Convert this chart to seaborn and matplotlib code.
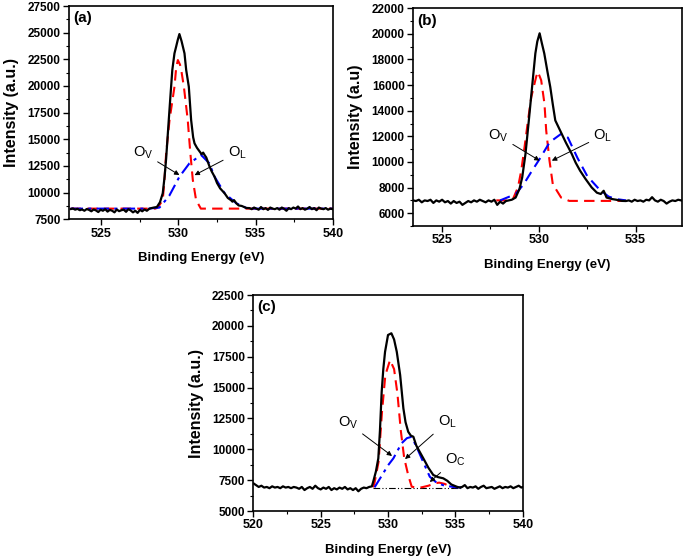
import numpy as np
import pandas as pd
import matplotlib
matplotlib.use("Agg")
import matplotlib.pyplot as plt
import seaborn as sns
from matplotlib.ticker import MultipleLocator

# ---------------- data ----------------
# Panel (a)
a_x = [523.0, 523.15, 523.3, 523.45, 523.6, 523.75, 523.9, 524.05, 524.2, 524.35, 524.5, 524.65,
       524.8, 524.95, 525.1, 525.25, 525.4, 525.55, 525.7, 525.85, 526.0, 526.15, 526.3, 526.45,
       526.6, 526.75, 526.9, 527.05, 527.2, 527.35, 527.5, 527.65, 527.8, 527.95, 528.1, 528.25,
       528.4, 528.6, 528.8, 528.98, 529.1, 529.2, 529.37, 529.5, 529.6, 529.74, 529.85, 529.95,
       530.06, 530.2, 530.39, 530.5, 530.67, 530.82, 530.95, 531.04, 531.2, 531.35, 531.5, 531.6,
       531.69, 531.8, 532.0, 532.15, 532.34, 532.5, 532.7, 532.99, 533.2, 533.4, 533.5, 533.6,
       533.75, 533.9, 534.1, 534.4, 534.6, 534.75, 534.9, 535.05, 535.2, 535.35, 535.5, 535.65,
       535.8, 535.95, 536.1, 536.25, 536.4, 536.55, 536.7, 536.85, 537.0, 537.15, 537.3, 537.45,
       537.6, 537.75, 537.9, 538.05, 538.2, 538.35, 538.5, 538.65, 538.8, 538.95, 539.1, 539.25,
       539.4, 539.55, 539.7, 539.85, 540.0]
a_total = [8450, 8520, 8400, 8480, 8350, 8420, 8300, 8460, 8380, 8250, 8420, 8330,
           8180, 8400, 8300, 8450, 8220, 8380, 8300, 8150, 8420, 8260, 8350, 8400,
           8200, 8450, 8330, 8150, 8300, 8100, 8380, 8250, 8420, 8300, 8480, 8550,
           8600, 8650, 9100, 9940, 11500, 13200, 16810, 19500, 21500, 23060, 23700, 24300,
           24870, 24200, 23060, 21500, 19930, 16810, 15200, 14620, 14200, 13900, 13600, 13750,
           13530, 13300, 12500, 12000, 11490, 10900, 10400, 9940, 9500, 9300, 9150, 9300,
           9000, 8800, 8750, 8560, 8550, 8450, 8600, 8500, 8400, 8650, 8450, 8550,
           8380, 8600, 8500, 8450, 8550, 8400, 8600, 8480, 8300, 8550, 8450, 8600,
           8500, 8700, 8450, 8550, 8400, 8500, 8650, 8450, 8550, 8350, 8600, 8500,
           8450, 8550, 8400, 8500, 8450]
a_red_x = [523.0, 528.5, 528.66, 528.98, 529.09, 529.2, 529.42, 529.74, 529.85, 529.96, 530.1,
           530.2, 530.35, 530.6, 530.77, 530.93, 531.14, 531.45, 540.0]
a_red = [8500, 8500, 8600, 9310, 11180, 13690, 16810, 19930, 21700, 22430, 22000,
         21300, 19930, 16810, 13690, 11180, 9310, 8500, 8500]
a_blue_x = [523.0, 528.0, 528.77, 529.4, 530.06, 530.71, 531.47, 532.0, 532.34, 532.99, 533.75,
            534.4, 535.0, 540.0]
a_blue = [8500, 8500, 8600, 9700, 11490, 12750, 13530, 12750, 11490, 9940, 9000,
          8560, 8500, 8500]

# Panel (b)
b_x = [523.5, 523.65, 523.8, 523.95, 524.1, 524.25, 524.4, 524.55, 524.7, 524.85, 525.0, 525.15,
       525.3, 525.45, 525.6, 525.75, 525.9, 526.05, 526.2, 526.35, 526.5, 526.65, 526.8, 526.95,
       527.1, 527.25, 527.4, 527.55, 527.7, 527.85, 528.0, 528.15, 528.3, 528.45, 528.6, 528.8,
       529.0, 529.14, 529.31, 529.48, 529.65, 529.82, 529.92, 530.04, 530.15, 530.28, 530.45,
       530.59, 530.72, 530.85, 531.1, 531.4, 531.7, 531.9, 532.13, 532.4, 532.73, 533.0, 533.2,
       533.35, 533.5, 533.8, 534.0, 534.3, 534.5, 534.65, 534.8, 534.95, 535.1, 535.25, 535.4,
       535.55, 535.7, 535.85, 536.0, 536.15, 536.3, 536.45, 536.6, 536.75, 536.9, 537.05, 537.2,
       537.35, 537.4]
b_total = [7000, 6950, 7050, 6850, 7000, 6950, 7050, 6800, 7000, 6900, 7050, 6850,
           6950, 6750, 6950, 6800, 6900, 6650, 6800, 6950, 6850, 7000, 6900, 7050,
           6950, 6850, 7000, 6900, 7050, 6650, 6900, 6750, 6950, 7000, 7050, 7220,
           7900, 8790, 10630, 13200, 15850, 18470, 19400, 20040, 19300, 18470, 17000,
           15850, 14500, 13240, 12450, 11500, 10630, 9950, 9320, 8700, 8010, 7600, 7500,
           7750, 7220, 7100, 7050, 6960, 6950, 7000, 6900, 7050, 6950, 7000, 6900,
           7050, 7000, 7250, 7000, 6900, 7050, 6950, 6750, 6900, 7000, 6950, 7050,
           7000, 6980]
b_red_x = [527.8, 528.4, 528.66, 528.92, 529.09, 529.26, 529.44, 529.61, 529.86, 529.95, 530.12,
           530.29, 530.38, 530.55, 530.72, 531.15, 531.57, 534.5]
b_red = [7000, 7000, 7100, 8010, 9320, 11150, 13240, 15070, 16640, 17030, 16380,
         14550, 12450, 10100, 8270, 7220, 6960, 6960]
b_blue_x = [528.0, 528.8, 529.22, 529.6, 530.04, 530.56, 531.16, 531.5, 532.0, 532.5, 533.1,
            533.6, 534.0, 534.5]
b_blue = [7000, 7490, 8270, 9200, 10230, 11540, 12200, 11900, 10300, 8900, 7900,
          7300, 7100, 7000]

# Panel (c)
c_x = [520.0, 520.2, 520.4, 520.6, 520.8, 521.0, 521.2, 521.4, 521.6, 521.8, 522.0, 522.2,
       522.4, 522.6, 522.8, 523.0, 523.2, 523.4, 523.6, 523.8, 524.0, 524.2, 524.4, 524.6,
       524.8, 525.0, 525.2, 525.4, 525.6, 525.8, 526.0, 526.2, 526.4, 526.6, 526.8, 527.0,
       527.2, 527.4, 527.6, 527.8, 528.0, 528.2, 528.4, 528.6, 528.8, 528.9, 529.1, 529.28,
       529.4, 529.53, 529.65, 529.78, 530.0, 530.25, 530.45, 530.65, 530.9, 531.14, 531.3,
       531.5, 531.7, 531.88, 532.1, 532.35, 532.62, 533.0, 533.36, 533.7, 534.1, 534.4, 534.7,
       535.1, 535.3, 535.5, 535.7, 535.9, 536.1, 536.3, 536.5, 536.7, 536.9, 537.1, 537.3,
       537.5, 537.7, 537.9, 538.1, 538.3, 538.5, 538.7, 538.9, 539.1, 539.3, 539.5, 539.7,
       539.9, 540.0]
c_total = [7250, 7100, 6950, 7050, 6900, 6950, 6850, 7000, 6900, 6950, 6850, 7000,
           6900, 6950, 6850, 6950, 6900, 6800, 6950, 6700, 6850, 6950, 6800, 7050,
           6850, 6750, 6900, 6800, 6950, 6700, 6850, 6750, 6900, 6800, 6950, 6750,
           6850, 6700, 6850, 6600, 6800, 6900, 6850, 6950, 7000, 7370, 8200, 9270,
           11500, 14660, 16500, 17900, 19260, 19400, 18900, 17900, 16020, 13320, 12200,
           11420, 11100, 11020, 10300, 9800, 9270, 8500, 7920, 7750, 7650, 7450, 7150,
           6970, 6900, 6950, 7100, 6850, 6950, 6900, 7000, 6800, 6950, 7050, 6850,
           6900, 6950, 6800, 6900, 7000, 6850, 6950, 6900, 7000, 6850, 6950, 7050,
           6900, 6950]
c_red_x = [528.9, 529.0, 529.3, 529.55, 529.8, 530.15, 530.45, 530.7, 530.95, 531.2, 531.5,
           531.76, 532.0, 532.5, 533.0, 533.5, 533.8, 534.2, 534.6, 535.0]
c_red = [6920, 7300, 9000, 13000, 16000, 17230, 16500, 14500, 11500, 9300, 7900,
         6970, 6920, 6920, 7050, 7250, 7300, 7200, 7000, 6920]
c_blue_x = [529.0, 529.5, 530.0, 530.4, 531.0, 531.4, 531.76, 532.2, 532.6, 533.1, 533.6,
            534.2, 535.1, 535.4]
c_blue = [6920, 7800, 8700, 9270, 10480, 10900, 11020, 10000, 9000, 7780, 7300,
          7050, 6920, 6920]
c_base_x = [528.9, 535.5]
c_base = [6900, 6900]

# ---------------- style ----------------
sns.set_style("ticks")
plt.rcParams["font.family"] = ["Liberation Sans", "DejaVu Sans"]
plt.rcParams["mathtext.fontset"] = "custom"
plt.rcParams["mathtext.rm"] = "Liberation Sans"
plt.rcParams["axes.edgecolor"] = "black"
plt.rcParams["xtick.color"] = "black"
plt.rcParams["ytick.color"] = "black"
plt.rcParams["text.color"] = "black"
plt.rcParams["axes.labelcolor"] = "black"

fig = plt.figure(figsize=(6.85, 5.56), dpi=100)
ax_a = fig.add_axes([0.1007, 0.6056, 0.385, 0.3836])
ax_b = fig.add_axes([0.603, 0.5935, 0.3927, 0.3918])
ax_c = fig.add_axes([0.3698, 0.0809, 0.3933, 0.3885])

RED = "#ff0000"
BLUE = "#0000ff"


def line(ax, x, y, color, ls, lw):
    sns.lineplot(x=x, y=y, ax=ax, color=color, linestyle=ls, linewidth=lw,
                 sort=False, estimator=None, legend=False)


def style(ax, xlim, ylim, xmaj, ymaj, ylabel, tag):
    ax.set_xlim(*xlim)
    ax.set_ylim(*ylim)
    ax.xaxis.set_major_locator(MultipleLocator(xmaj))
    ax.xaxis.set_minor_locator(MultipleLocator(xmaj / 2))
    ax.yaxis.set_major_locator(MultipleLocator(ymaj))
    ax.yaxis.set_minor_locator(MultipleLocator(ymaj / 2))
    ax.tick_params(which="major", direction="out", length=4, width=1, pad=2)
    ax.tick_params(which="minor", direction="out", length=2, width=0.8)
    ax.tick_params(axis="x", which="major", labelsize=9)
    ax.tick_params(axis="y", which="major", labelsize=8.5)
    for lab in ax.get_xticklabels() + ax.get_yticklabels():
        lab.set_fontweight("bold")
    for s in ax.spines.values():
        s.set_visible(True)
        s.set_linewidth(1.2)
        s.set_color("black")
    ax.set_xlabel("Binding Energy (eV)", fontsize=9.5, fontweight="bold", labelpad=9)
    ax.set_ylabel(ylabel, fontsize=11.5, fontweight="bold", labelpad=6)
    ax.text(0.015, 0.975, tag, transform=ax.transAxes, ha="left", va="top",
            fontsize=11, fontweight="bold")


def note(ax, label, head, txt):
    ax.annotate(label, xy=head, xytext=txt, ha="center", va="center", fontsize=10.5,
                arrowprops=dict(arrowstyle="-|>", color="black", lw=0.7,
                                mutation_scale=7, shrinkA=1, shrinkB=0))


# (a)
line(ax_a, a_red_x, a_red, RED, (0, (5, 3)), 1.5)
line(ax_a, a_blue_x, a_blue, BLUE, (0, (6, 2.5, 1.5, 2.5)), 1.5)
line(ax_a, a_x, a_total, "black", "-", 1.6)
style(ax_a, (522.9, 540), (7500, 27500), 5, 2500, "Intensity (a.u.)", "(a)")
note(ax_a, r"O$_\mathrm{V}$", (530.06, 11650), (527.7, 13720))
note(ax_a, r"O$_\mathrm{L}$", (531.04, 11640), (533.8, 13720))

# (b)
line(ax_b, b_red_x, b_red, RED, (0, (5, 3)), 1.5)
line(ax_b, b_blue_x, b_blue, BLUE, (0, (5, 3)), 1.5)
line(ax_b, b_x, b_total, "black", "-", 1.6)
style(ax_b, (523.5, 537.4), (5000, 22000), 5, 2000, "Intensity (a.u)", "(b)")
note(ax_b, r"O$_\mathrm{V}$", (530.04, 10100), (527.9, 12060))
note(ax_b, r"O$_\mathrm{L}$", (530.67, 10100), (533.3, 12060))

# (c)
line(ax_c, c_base_x, c_base, "black", (0, (6, 2, 1, 2, 1, 2)), 0.8)
line(ax_c, c_red_x, c_red, RED, (0, (5, 3)), 1.5)
line(ax_c, c_blue_x, c_blue, BLUE, (0, (6, 2.5, 1.5, 2.5)), 1.5)
line(ax_c, c_x, c_total, "black", "-", 1.6)
style(ax_c, (520, 540), (5000, 22500), 5, 2500, "Intensity (a.u.)", "(c)")
note(ax_c, r"O$_\mathrm{V}$", (530.3, 9460), (527.03, 12130))
note(ax_c, r"O$_\mathrm{L}$", (531.26, 9210), (534.38, 12210))
note(ax_c, r"O$_\mathrm{C}$", (533.1, 7350), (534.97, 9130))

fig.savefig("out.png", dpi=100)
